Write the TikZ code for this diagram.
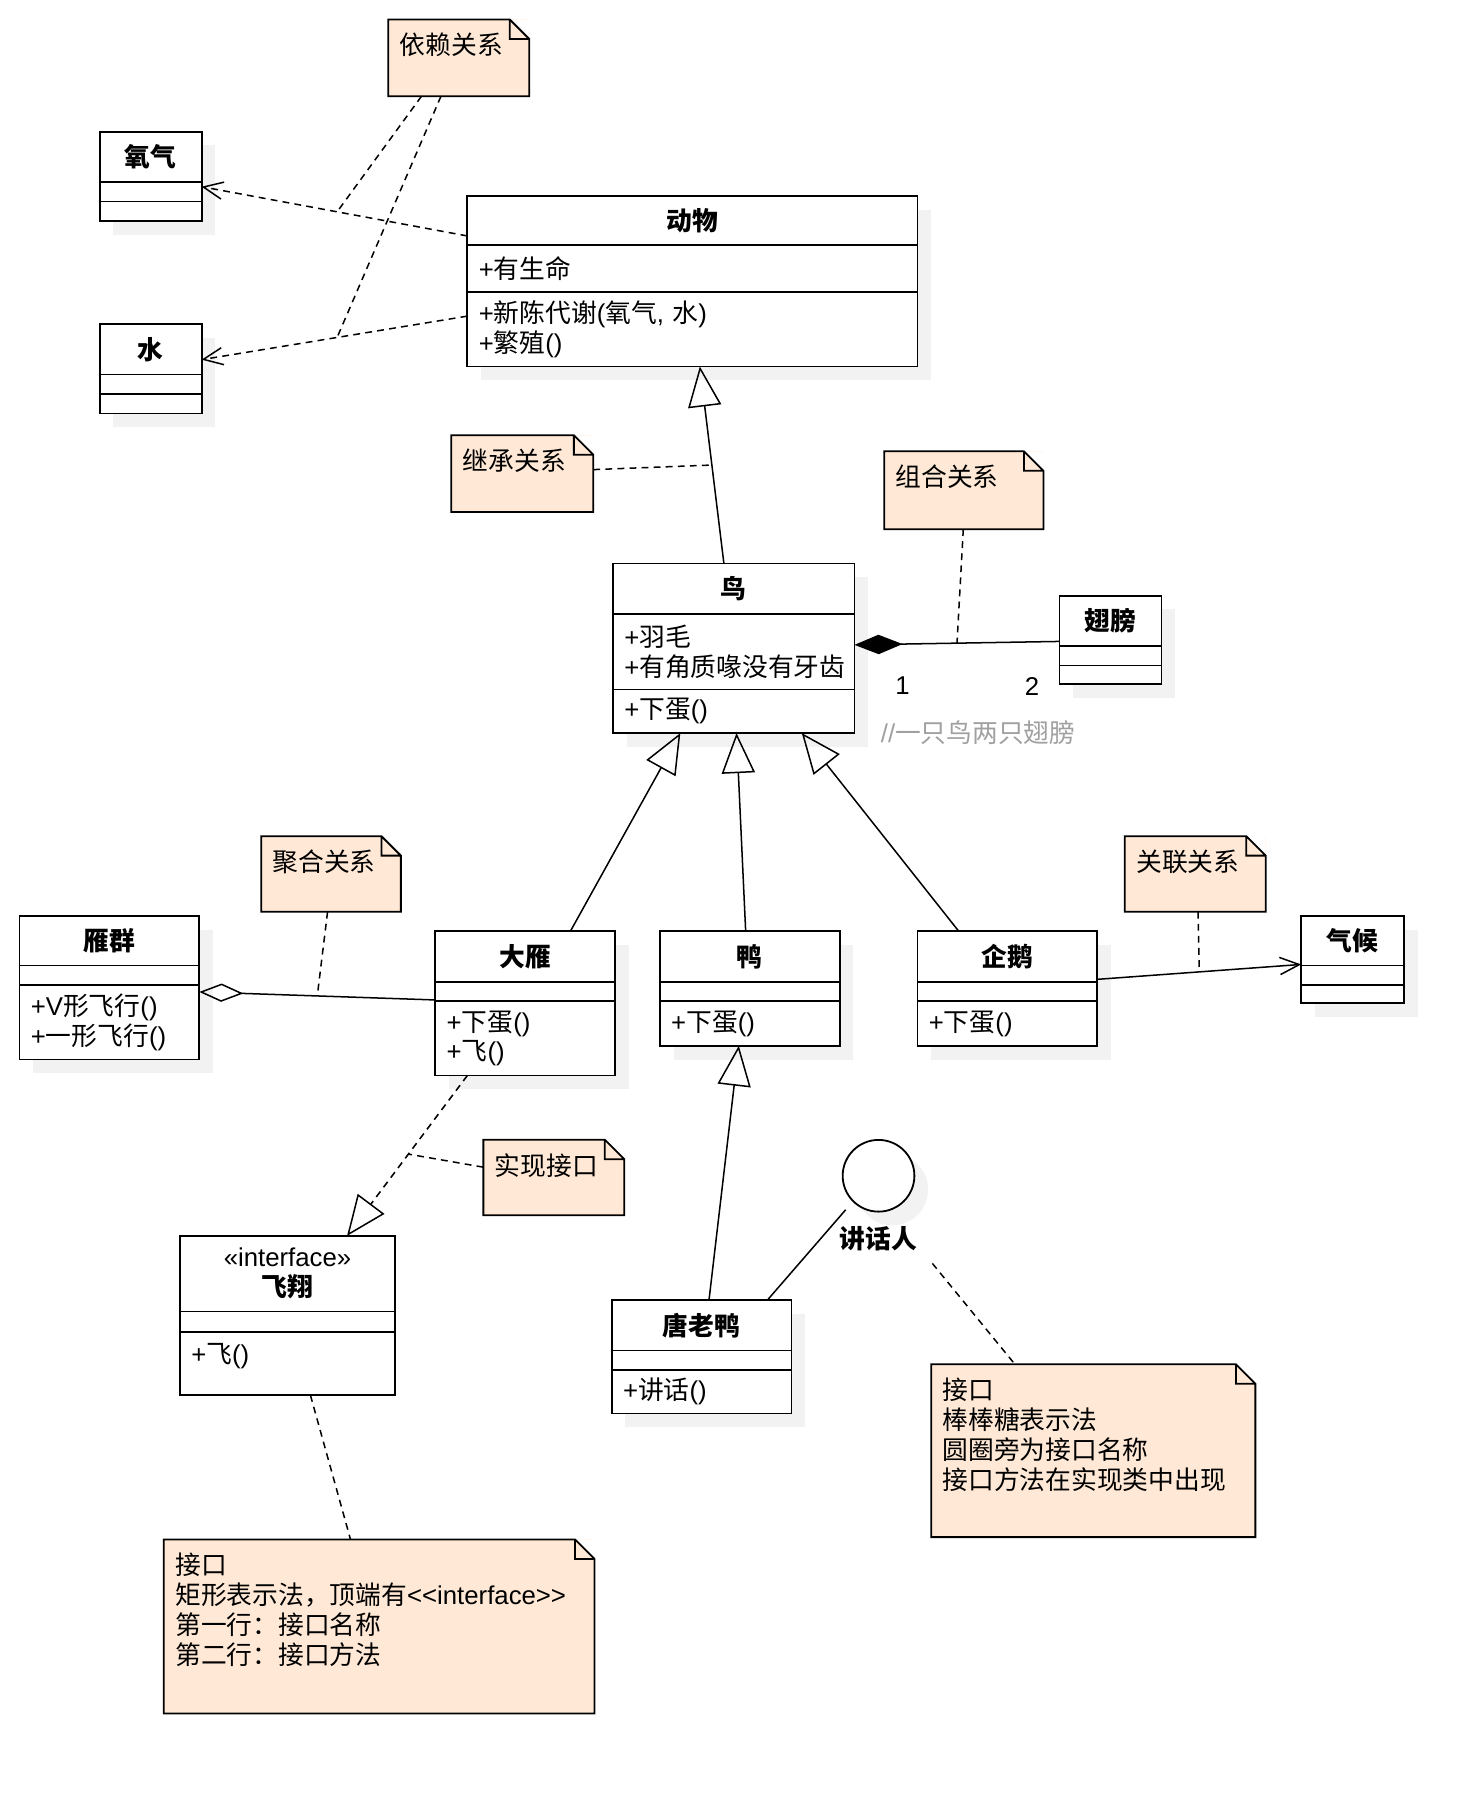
\documentclass[tikz,border=0pt]{standalone}
\usepackage{fontspec}
\setmainfont{Liberation Sans}
\newfontfamily\cjkfont{Noto Sans CJK SC}
\XeTeXinterchartokenstate=1
\newXeTeXintercharclass\hanclass
\count255="4E00
\loop
  \XeTeXcharclass\count255=\hanclass
  \advance\count255 by 1
\ifnum\count255<"A000 \repeat
\XeTeXcharclass"FF0C=\hanclass
\XeTeXcharclass"FF1A=\hanclass
\XeTeXinterchartoks 0 \hanclass = {\cjkfont}
\XeTeXinterchartoks 4095 \hanclass = {\cjkfont}
\XeTeXinterchartoks \hanclass 0 = {\rmfamily}
\XeTeXinterchartoks \hanclass 4095 = {\rmfamily}
\usetikzlibrary{arrows.meta,shadows}
\newcommand\umlfont{\fontsize{12.8}{14.8}\selectfont}
\definecolor{notebg}{HTML}{FFE9D6}
\definecolor{cmtgray}{HTML}{A0A0A0}

\begin{document}
\begin{tikzpicture}[x=0.02cm, y=-0.02cm,
  every node/.style={font=\umlfont},
  line width=0.75pt,
  cbox/.style={draw, fill=white, line width=0.9pt, inner sep=0pt, outer sep=0pt},
  shd/.style={drop shadow={shadow xshift=0.24cm, shadow yshift=-0.24cm, fill=black!5, opacity=1}},
  hd0/.style={cbox, anchor=north west, font=\umlfont\bfseries, align=center, minimum width=#1*\px},
  cp0/.style={cbox, anchor=north, align=left, inner xsep=0.2cm, minimum width=#1*\px, text width=#1*\px-0.4cm},
  hd/.style={hd0=#1, shd},
  cp/.style={cp0=#1, shd},
  note/.style={fill=notebg, anchor=north west, inner sep=0.2cm, outer sep=0pt, align=left, text height=0.42cm},
  dep/.style={dash pattern=on 3.4pt off 2.6pt},
  inh/.style={-{Triangle[open, length=0.7cm, width=0.58cm]}},
  opn/.style={-{Straight Barb[length=0.34cm, width=0.3cm]}},
]
\def\px{0.02cm}
\def\dogear#1{%
  \fill[white] ([xshift=-0.34cm]#1.north east) -- (#1.north east) -- ([yshift=-0.34cm]#1.north east) -- cycle;
  \draw[line width=0.9pt] (#1.north west) -- ([xshift=-0.34cm]#1.north east) -- ([yshift=-0.34cm]#1.north east)
    -- (#1.south east) -- (#1.south west) -- cycle
    ([xshift=-0.34cm]#1.north east) |- ([yshift=-0.34cm]#1.north east);}
\useasboundingbox (0,0) rectangle (1292,1568);

\node[hd=89, minimum height=44*\px] (yqh) at (87,115) {氧气};
\node[cp=89, minimum height=17*\px] (yqa) at (yqh.south) {};
\node[cp=89, minimum height=17*\px] (yqo) at (yqa.south) {};

\node[hd=89, minimum height=44*\px] (shh) at (87,283) {水};
\node[cp=89, minimum height=17*\px] (sha) at (shh.south) {};
\node[cp=89, minimum height=17*\px] (sho) at (sha.south) {};

\node[hd=393, minimum height=43*\px] (dwh) at (408,171) {动物};
\node[cp=393, minimum height=41*\px] (dwa) at (dwh.south) {+有生命};
\node[cp=393, minimum height=65*\px] (dwo) at (dwa.south) {+新陈代谢(氧气, 水)\\+繁殖()};

\node[hd=211, minimum height=44*\px] (nbh) at (535,492) {鸟};
\node[cp=211, minimum height=66*\px] (nba) at (nbh.south) {+羽毛\\+有角质喙没有牙齿};
\node[cp=211, minimum height=38*\px] (nbo) at (nba.south) {+下蛋()};

\node[hd=89, minimum height=44*\px] (cbh) at (925,520) {翅膀};
\node[cp=89, minimum height=17*\px] (cba) at (cbh.south) {};
\node[cp=89, minimum height=16*\px] (cbo) at (cba.south) {};

\node[hd=157, minimum height=43*\px] (yqnh) at (17,800) {雁群};
\node[cp=157, minimum height=17*\px] (yqna) at (yqnh.south) {};
\node[cp=157, minimum height=65*\px] (yqno) at (yqna.south) {+V形飞行()\\+一形飞行()};

\node[hd=157, minimum height=44*\px] (dyh) at (380,813) {大雁};
\node[cp=157, minimum height=17*\px] (dya) at (dyh.south) {};
\node[cp=157, minimum height=65*\px] (dyo) at (dya.south) {+下蛋()\\+飞()};

\node[hd=157, minimum height=44*\px] (yah) at (576,813) {鸭};
\node[cp=157, minimum height=17*\px] (yaa) at (yah.south) {};
\node[cp=157, minimum height=39*\px] (yao) at (yaa.south) {+下蛋()};

\node[hd=157, minimum height=44*\px] (qeh) at (801,813) {企鹅};
\node[cp=157, minimum height=17*\px] (qea) at (qeh.south) {};
\node[cp=157, minimum height=39*\px] (qeo) at (qea.south) {+下蛋()};

\node[hd=90, minimum height=43*\px] (qhh) at (1136,800) {气候};
\node[cp=90, minimum height=17*\px] (qha) at (qhh.south) {};
\node[cp=90, minimum height=16*\px] (qho) at (qha.south) {};

\node[hd0=188, minimum height=66*\px] (fxh) at (157,1079) {{\mdseries «interface»}\\飞翔};
\node[cp0=188, minimum height=18*\px] (fxa) at (fxh.south) {};
\node[cp0=188, minimum height=55*\px, text height=0.42cm, text depth=0.44cm] (fxo) at (fxa.south) {+飞()};

\node[hd=157, minimum height=44*\px] (tlyh) at (534,1135) {唐老鸭};
\node[cp=157, minimum height=17*\px] (tlya) at (tlyh.south) {};
\node[cp=157, minimum height=38*\px] (tlyo) at (tlya.south) {+讲话()};

\node[cbox, circle, minimum size=62.6*\px, shd] (jh) at (767,1026.5) {};
\node[font=\umlfont\bfseries] (jhl) at (767,1081) {讲话人};

\node[note, text width=103*\px, text depth=26*\px] (n1) at (339,17) {依赖关系};
\node[note, text width=104*\px, text depth=26*\px] (n2) at (394,380) {继承关系};
\node[note, text width=119*\px, text depth=27*\px] (n3) at (772,394) {组合关系};
\node[note, text width=102*\px, text depth=25*\px] (n4) at (228,730) {聚合关系};
\node[note, text width=103*\px, text depth=25*\px] (n5) at (982,730) {关联关系};
\node[note, text width=103*\px, text depth=25*\px] (n6) at (422,995) {实现接口};
\node[note, text width=356*\px, text depth=111*\px] (n7) at (143,1344)
  {接口\\矩形表示法，顶端有<{}<interface>{}>\\第一行：接口名称\\第二行：接口方法};
\node[note, text width=263*\px, text depth=110*\px] (n8) at (813,1191)
  {接口\\棒棒糖表示法\\圆圈旁为接口名称\\接口方法在实现类中出现};
\foreach \n in {n1,n2,n3,n4,n5,n6,n7,n8} {\dogear{\n}}

\draw[dep, opn] (dwh.west |- 0,206) -- coordinate[pos=0.49] (d1) (yqa.east |- 0,163);
\draw[dep, opn] (dwo.west |- 0,276) -- coordinate[pos=0.49] (d2) (shh.east |- 0,314);
\draw[dep] (n1.south -| 368,0) -- (d1);
\draw[dep] (n1.south -| 385,0) -- (d2);

\draw[inh] (nbh.north -| 632,0) -- coordinate[pos=0.5] (i1) (dwo.south -| 611,0);
\draw[dep] (n2.east |- 0,410) -- (i1);

\draw[-{Diamond[length=0.84cm, width=0.34cm]}] (cbh.west |- 0,560) -- coordinate[pos=0.5] (c1) (nba.east |- 0,563);
\draw[dep] (n3.south -| 841,0) -- (c1);
\node (m1) at (788,599) {1};
\node (m2) at (901,599) {2};
\node[text=cmtgray] (cm) at (854,640) {//一只鸟两只翅膀};

\draw[inh] (dyh.north -| 498,0) -- (nbo.south -| 594,0);
\draw[inh] (yah.north -| 651,0) -- (nbo.south -| 643,0);
\draw[inh] (qeh.north -| 837,0) -- (nbo.south -| 700,0);

\draw[-{Diamond[open, length=0.77cm, width=0.32cm]}] (dya.west |- 0,873) -- coordinate[pos=0.5] (a1) (yqno.east |- 0,866);
\draw[dep] (n4.south -| 286,0) -- (a1);

\draw[opn] (qeh.east |- 0,855) -- coordinate[pos=0.5] (s1) (qhh.west |- 0,842);
\draw[dep] (n5.south -| 1046,0) -- (s1);

\draw[dep, inh] (dyo.south -| 408,0) -- coordinate[pos=0.49] (r1) (fxh.north -| 303,0);
\draw[dep] (n6.west |- 0,1019) -- (r1);
\draw[dep] (fxo.south -| 271,0) -- (n7.north -| 306,0);

\draw[inh] (tlyh.north -| 619,0) -- (yao.south -| 645,0);
\draw[shorten <=0.2cm] (jh.south west) -- (tlyh.north -| 670,0);
\coordinate (jd) at (814,1103);
\draw[dep] (jd) -- (n8.north -| 886,0);
\end{tikzpicture}
\end{document}
